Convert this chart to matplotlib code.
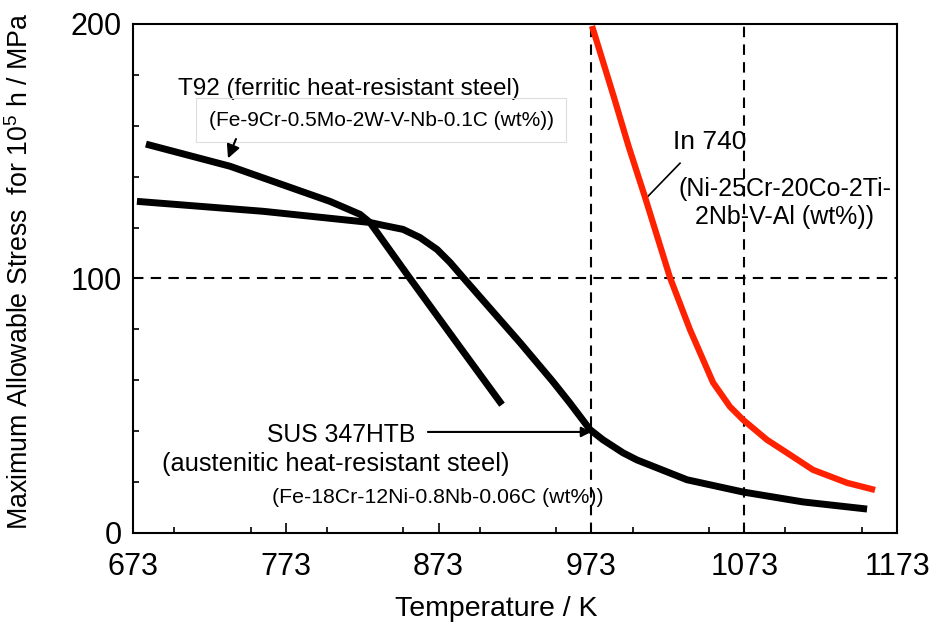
import matplotlib
matplotlib.use("Agg")
import matplotlib.pyplot as plt
from matplotlib.ticker import MultipleLocator

plt.rcParams['font.family'] = ['Liberation Sans', 'DejaVu Sans']
plt.rcParams['mathtext.fontset'] = 'custom'
plt.rcParams['mathtext.rm'] = 'Liberation Sans'

# values
t92_T = [681.5, 736.5, 801.9, 821.6, 828.1, 854.3, 887.0, 914.5]
t92_S = [152.8, 144.1, 130.3, 125.2, 122.0, 100.0, 73.0, 50.4]

sus_T = [675.6, 758.1, 828.1, 836.6, 849.7, 860.8, 872.0, 880.5, 889.0, 904.7,
         926.3, 947.9, 959.0, 972.1, 980.6, 993.7, 1002.8, 1035.6, 1072.2, 1111.5, 1153.4]
sus_S = [130.3, 126.4, 122.0, 120.9, 119.3, 116.1, 111.4, 106.3, 100.4, 89.6,
         74.8, 59.4, 51.0, 40.6, 36.6, 31.5, 28.7, 20.9, 16.1, 12.2, 9.4]

in740_T = [973.4, 987.5, 997.3, 1007.9, 1024.4, 1037.5, 1052.6, 1063.7, 1072.2,
           1087.9, 1101.0, 1118.0, 1140.3, 1158.6]
in740_S = [199.2, 171.7, 152.0, 132.3, 100.4, 79.9, 59.1, 49.6, 44.5,
           36.6, 31.5, 24.8, 19.7, 16.9]

xticks = [673, 773, 873, 973, 1073, 1173]
yticks = [0, 100, 200]
ref_T = [973, 1073]
ref_S = 100

fig = plt.figure(figsize=(9.35, 6.26), dpi=100)
ax = fig.add_axes([0.1422, 0.1486, 0.8172, 0.8131])

ax.set_xlim(673, 1173)
ax.set_ylim(0, 200)

# dashed reference lines
dash = dict(color='black', lw=1.5, ls=(0, (5, 3.5)), zorder=1)
ax.axhline(ref_S, **dash)
for t in ref_T:
    ax.axvline(t, **dash)

ax.plot(t92_T, t92_S, color='black', lw=5, solid_capstyle='butt', solid_joinstyle='round', zorder=3)
ax.plot(sus_T, sus_S, color='black', lw=5, solid_capstyle='butt', solid_joinstyle='round', zorder=3)
ax.plot(in740_T, in740_S, color='#ff2200', lw=4.5, solid_capstyle='butt', solid_joinstyle='round', zorder=3)

ax.set_xticks(xticks)
ax.set_yticks(yticks)
ax.xaxis.set_minor_locator(MultipleLocator(50))
ax.yaxis.set_minor_locator(MultipleLocator(20))
ax.tick_params(which='both', direction='in', top=False, right=False, width=1.2)
ax.tick_params(which='major', length=7, labelsize=22)
ax.tick_params(axis='x', which='major', pad=14)
ax.tick_params(axis='y', which='major', pad=8)
ax.tick_params(which='minor', length=4)
for s in ax.spines.values():
    s.set_linewidth(1.5)

ax.set_xlabel('Temperature / K', fontsize=20.5)
ax.set_ylabel('Maximum Allowable Stress  for 10$^5$ h / MPa', fontsize=19.3)
ax.xaxis.set_label_coords(0.476, -0.149)
ax.xaxis.label.set_va('center')
ax.yaxis.set_label_coords(-0.148, 0.515)
ax.yaxis.label.set_va('center')

arrow = dict(arrowstyle='-|>', color='black', lw=1.5, mutation_scale=15, shrinkA=0, shrinkB=0)

# annotations (axes data coordinates)
ax.text(702.5, 174.4, 'T92 (ferritic heat-resistant steel)', fontsize=17.5, va='center', ha='left')
ax.text(722.7, 162.2, '(Fe-9Cr-0.5Mo-2W-V-Nb-0.1C (wt%))', fontsize=15, va='center', ha='left',
        bbox=dict(boxstyle='square,pad=0.6', fc='none', ec='#dddddd', lw=0.8))
ax.annotate('', xy=(735.2, 147.2), xytext=(740.4, 154.8),
            arrowprops=dict(arrow, mutation_scale=20))

ax.text(1026.5, 153.5, 'In 740', fontsize=19, va='center', ha='left')
ax.plot([1009.4, 1031.0], [131.9, 145.3], color='black', lw=1.2)
ax.text(1029.7, 135, '(Ni-25Cr-20Co-2Ti-', fontsize=18, va='center', ha='left')
ax.text(1040.8, 124, '2Nb-V-Al (wt%))', fontsize=18, va='center', ha='left')

ax.text(760.7, 38.6, 'SUS 347HTB', fontsize=17.8, va='center', ha='left')
ax.annotate('', xy=(973, 39.7), xytext=(866, 39.7), arrowprops=arrow)
ax.text(692, 27, '(austenitic heat-resistant steel)', fontsize=18.3, va='center', ha='left')
ax.text(764, 13.8, '(Fe-18Cr-12Ni-0.8Nb-0.06C (wt%))', fontsize=15.3, va='center', ha='left')

fig.savefig('out.png', dpi=100)
